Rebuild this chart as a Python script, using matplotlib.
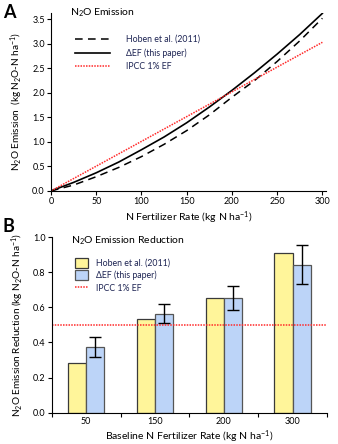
import matplotlib
matplotlib.use("Agg")
import matplotlib.pyplot as plt
from matplotlib.patches import Patch
from matplotlib.lines import Line2D
import numpy as np

plt.rcParams['font.family'] = ['Lato', 'DejaVu Sans']
plt.rcParams['mathtext.fontset'] = 'custom'
plt.rcParams['mathtext.rm'] = 'Lato'
plt.rcParams['mathtext.it'] = 'Lato:italic'
plt.rcParams['mathtext.bf'] = 'Lato:bold'
plt.rcParams['mathtext.default'] = 'rm'

# Panel A data
rate = [0, 25, 50, 75, 100, 125, 150, 175, 200, 225, 250, 275, 300]
hoben_curve = [0, 0.12, 0.29, 0.48, 0.70, 0.95, 1.23, 1.55, 1.91, 2.25, 2.64, 3.06, 3.52]
def_curve = [0, 0.174, 0.37, 0.59, 0.84, 1.10, 1.39, 1.71, 2.05, 2.41, 2.79, 3.19, 3.62]
ipcc_rate = [0, 300]
ipcc_curve = [0, 3.03]

# Panel B data
categories = ['50', '150', '200', '300']
hoben_red = [0.285, 0.533, 0.653, 0.907]
def_red = [0.374, 0.564, 0.653, 0.843]
def_err = [0.056, 0.053, 0.07, 0.11]
ipcc_red = 0.5

navy = '#1c2352'
red = '#ff2a2a'
fig = plt.figure(figsize=(3.38, 4.44), dpi=100)

# ---- Panel A ----
ax1 = fig.add_axes([0.151, 0.570, 0.8135, 0.401])
ax1.plot(rate, hoben_curve, color='black', lw=1.1, dashes=(5, 3.5))
ax1.plot(rate, def_curve, color='black', lw=1.2)
ax1.plot(ipcc_rate, ipcc_curve, color=red, lw=1.1, ls=(0, (1, 0.8)))
ax1.set_xlim(0, 304)
ax1.set_ylim(0, 3.63)
ax1.set_xticks(range(0, 301, 50))
ax1.set_yticks(np.arange(0, 3.51, 0.5))
ax1.set_yticklabels([f'{v:.1f}' for v in np.arange(0, 3.51, 0.5)])
for s in ['top', 'right']:
    ax1.spines[s].set_visible(False)
for s in ['left', 'bottom']:
    ax1.spines[s].set_linewidth(0.8)
ax1.tick_params(labelsize=6.5, length=3, width=0.8, pad=1.5)
ax1.set_xlabel('N Fertilizer Rate (kg N ha$^{-1}$)', fontsize=7.5, labelpad=2)
ax1.set_ylabel('N$_2$O Emission  (kg N$_2$O-N ha$^{-1}$)', fontsize=7.2, labelpad=5)
ax1.text(0.07, 1.0, 'N$_2$O Emission', transform=ax1.transAxes, fontsize=7.5,
         va='center', ha='left')
handles = [Line2D([], [], color='black', lw=1.1, dashes=(5, 3.5)),
           Line2D([], [], color='black', lw=1.2),
           Line2D([], [], color=red, lw=1.1, ls=(0, (1, 0.8)))]
leg = ax1.legend(handles, ['Hoben et al. (2011)', '\u0394EF (this paper)', 'IPCC 1% EF'],
                 loc='upper left', bbox_to_anchor=(0.075, 0.895), frameon=False,
                 fontsize=6.3, handlelength=4.0, handletextpad=1.8, labelspacing=0.5,
                 borderaxespad=0)
for t in leg.get_texts():
    t.set_color(navy)
fig.text(0.008, 0.992, 'A', fontsize=13, fontweight='bold', va='top', ha='left')

# ---- Panel B ----
ax2 = fig.add_axes([0.153, 0.0705, 0.8145, 0.3955])
x = np.arange(len(categories))
w = 0.265
ax2.bar(x - w / 2, hoben_red, width=w, color='#fff59a', edgecolor='#3a3a3a', lw=0.9)
ax2.bar(x + w / 2, def_red, width=w, color='#bcd4f8', edgecolor='#555555', lw=0.9,
        yerr=def_err, capsize=4.5, error_kw=dict(elinewidth=1, capthick=1, ecolor='black'))
ax2.axhline(ipcc_red, color=red, lw=1.1, ls=(0, (1, 0.8)))
ax2.set_xlim(-0.5, len(categories) - 0.5)
ax2.set_ylim(0, 1.0)
ax2.set_xticks(x)
ax2.set_xticklabels(categories)
ax2.set_xticks(np.arange(-0.5, len(categories), 1.0), minor=True)
ax2.tick_params(axis='x', which='major', length=0, labelsize=6.5, pad=3)
ax2.tick_params(axis='x', which='minor', length=3, width=0.8)
ax2.tick_params(axis='y', labelsize=6.5, length=3, width=0.8, pad=1.5)
ax2.set_yticks(np.arange(0, 1.01, 0.2))
ax2.set_yticklabels([f'{v:.1f}' for v in np.arange(0, 1.01, 0.2)])
for s in ['top', 'right']:
    ax2.spines[s].set_visible(False)
for s in ['left', 'bottom']:
    ax2.spines[s].set_linewidth(0.8)
ax2.set_xlabel('Baseline N Fertilizer Rate (kg N ha$^{-1}$)', fontsize=7.5, labelpad=2)
ax2.set_ylabel('N$_2$O Emission Reduction (kg N$_2$O-N ha$^{-1}$)', fontsize=7.2, labelpad=5)
ax2.text(0.07, 0.977, 'N$_2$O Emission Reduction', transform=ax2.transAxes, fontsize=7.5,
         va='center', ha='left')
handles2 = [Patch(facecolor='#fff59a', edgecolor='#3a3a3a', lw=0.9),
            Patch(facecolor='#bcd4f8', edgecolor='#555555', lw=0.9),
            Line2D([], [], color=red, lw=1.1, ls=(0, (1, 0.8)))]
leg2 = ax2.legend(handles2, ['Hoben et al. (2011)', '\u0394EF (this paper)', 'IPCC 1% EF'],
                  loc='upper left', bbox_to_anchor=(0.072, 0.9), frameon=False,
                  fontsize=6.3, handlelength=1.5, handleheight=1.3, handletextpad=0.9,
                  labelspacing=0.3, borderaxespad=0)
for t in leg2.get_texts():
    t.set_color(navy)
fig.text(0.008, 0.508, 'B', fontsize=13, fontweight='bold', va='top', ha='left')

fig.savefig('out.png', dpi=100)
